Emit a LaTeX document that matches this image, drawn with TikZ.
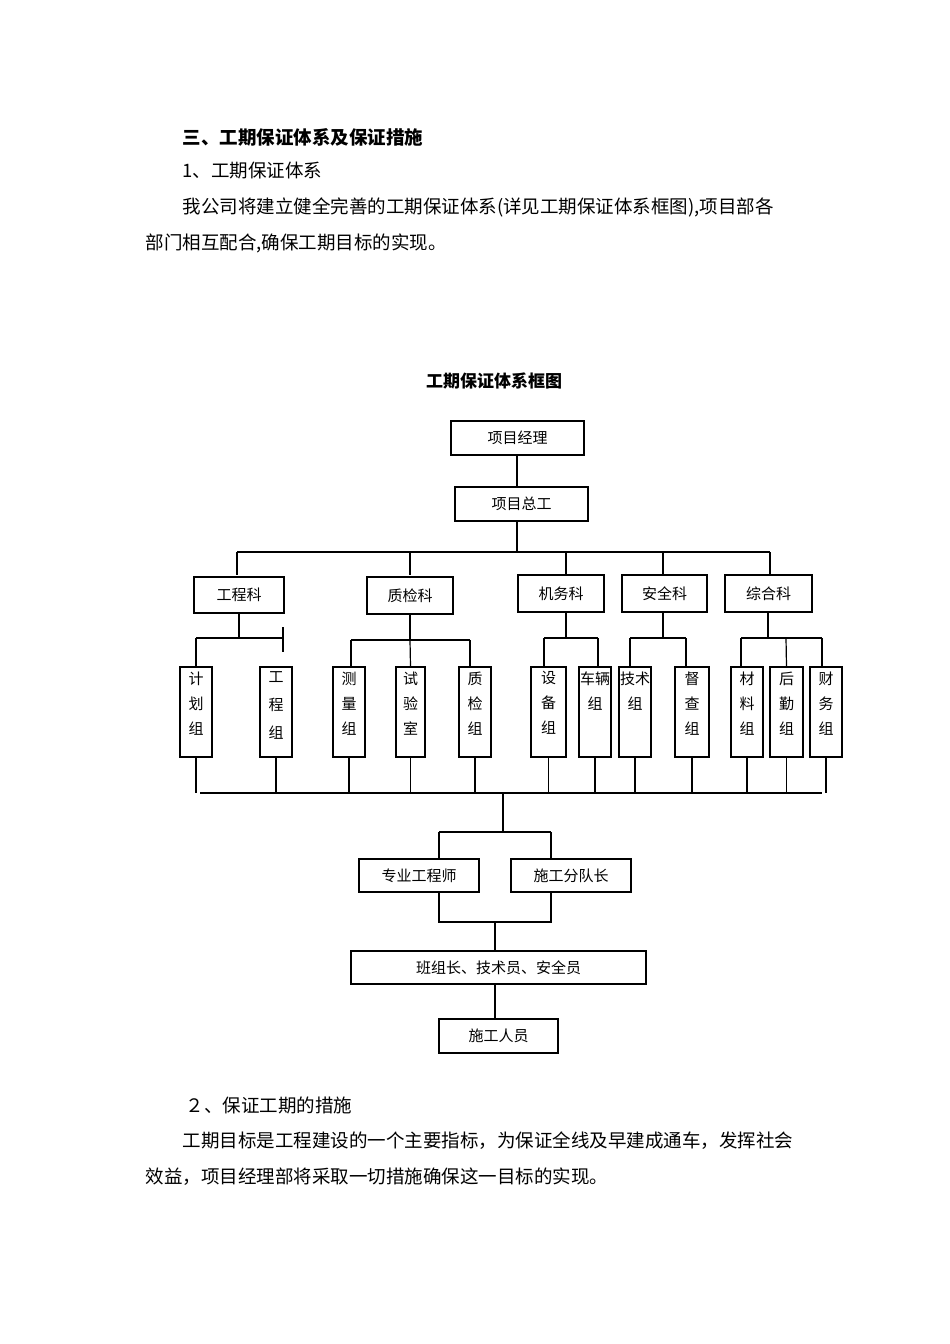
\documentclass[tikz,border=0pt]{standalone}
\usepackage{fontspec}
\setmainfont{Noto Sans CJK SC}
\begin{document}
\begin{tikzpicture}[x=1pt,y=-1pt,line width=1.2pt,
  box/.style={draw,inner sep=0pt,line width=1.2pt},
  lbl/.style={font=\fontsize{15}{15}\selectfont},
  vl/.style={font=\fontsize{15}{25}\selectfont,align=center,anchor=north,inner sep=0pt},
  para/.style={font=\fontsize{18.5}{18.5}\selectfont,anchor=west,inner sep=0pt}]
\useasboundingbox (0,0) rectangle (950,1344);
\node[para,font=\fontsize{18.5}{18.5}\selectfont\bfseries] (h1) at (182,137) {三、工期保证体系及保证措施};
\node[para] (h2) at (182,171) {1、工期保证体系};
\node[para] (p1) at (182,207) {我公司将建立健全完善的工期保证体系(详见工期保证体系框图),项目部各};
\node[para] (p2) at (145,243) {部门相互配合,确保工期目标的实现。};
\node[font=\fontsize{17}{17}\selectfont\bfseries] (title) at (494,381) {工期保证体系框图};
\node[para] (h3) at (185,1105) {２、保证工期的措施};
\node[para] (p3) at (182,1141) {工期目标是工程建设的一个主要指标，为保证全线及早建成通车，发挥社会};
\node[para] (p4) at (145,1177) {效益，项目经理部将采取一切措施确保这一目标的实现。};
% top
\node[box,minimum width=133,minimum height=34,lbl] (pm) at (517.5,438) {项目经理};
\node[box,minimum width=133,minimum height=34,lbl] (zg) at (521.5,504) {项目总工};
\draw (pm.south -| 517,0) ++(0,0) -- (517,487);
\draw (517,521) -- (517,552);
\draw (237,552) -- (770,552);
\node[box,minimum width=90,minimum height=36,lbl] (gck) at (239,595) {工程科};
\node[box,minimum width=86,minimum height=37,lbl] (zjk) at (410,595.5) {质检科};
\node[box,minimum width=86,minimum height=37,lbl] (jwk) at (561,593.5) {机务科};
\node[box,minimum width=85,minimum height=37,lbl] (aqk) at (664.5,593.5) {安全科};
\node[box,minimum width=87,minimum height=37,lbl] (zhk) at (768.5,593.5) {综合科};
\foreach \x/\n in {237/gck,410/zjk,566/jwk,663/aqk,770/zhk} \draw (\x,552) -- (\x,575);
% small boxes
\foreach \n/\x/\w/\t in {jh/196/32/{计\\划\\组},gc/276/32/{工\\[3pt]程\\[3pt]组},cl/349/32/{测\\量\\组},sy/410.5/29/{试\\验\\室},zj/475/32/{质\\检\\组},sb/548.5/35/{设\\备\\组},cl2/595/32/{车辆\\组},js/635/32/{技术\\组},dc/692/34/{督\\查\\组},ll/747/32/{材\\料\\组},hq/786.5/33/{后\\勤\\组},cw/826/32/{财\\务\\组}}{
  \node[box,minimum width=\w,minimum height=90] (\n) at (\x,712) {};
  \node[vl] (\n t) at (\x,671) {\t};
  \draw (\n.south) -- (\x,793);
}
\draw (200,793) -- (822,793);
% group connectors
\draw (gck.south -| 239,0) (239,613) -- (239,638);
\draw (196,638) -- (283,638);
\draw (283,627) -- (283,652);
\draw (196,638) -- (jh.north);
\draw (410,614) -- (410,640);
\draw (351,640) -- (470,640);
\draw (351,640) -- (351,667);
\draw (410,640) -- (sy.north);
\draw (470,640) -- (470,667);
\draw (566,612) -- (566,638);
\draw (544,638) -- (598,638);
\draw (544,638) -- (544,667);
\draw (598,638) -- (598,667);
\draw (663,612) -- (663,638);
\draw (630,638) -- (686,638);
\draw (630,638) -- (630,667);
\draw (686,638) -- (686,667);
\draw (768,612) -- (768,638);
\draw (741,638) -- (822,638);
\draw (741,638) -- (741,667);
\draw (786,638) -- (hq.north);
\draw (822,638) -- (822,667);
% lower
\draw (503,793) -- (503,832);
\draw (439,832) -- (551,832);
\node[box,minimum width=120,minimum height=33,lbl] (zy) at (419,875.5) {专业工程师};
\node[box,minimum width=120,minimum height=33,lbl] (sd) at (571,875.5) {施工分队长};
\draw (439,832) -- (439,859);
\draw (551,832) -- (551,859);
\draw (439,892) -- (439,922) -- (551,922) -- (551,892);
\node[box,minimum width=295,minimum height=33,lbl] (bz) at (498.5,967.5) {班组长、技术员、安全员};
\draw (495,922) -- (bz.north -| 495,0);
\draw (495,922) -- (495,951);
\node[box,minimum width=119,minimum height=34,lbl] (sr) at (498.5,1036) {施工人员};
\draw (495,984) -- (495,1019);
\end{tikzpicture}
\end{document}
